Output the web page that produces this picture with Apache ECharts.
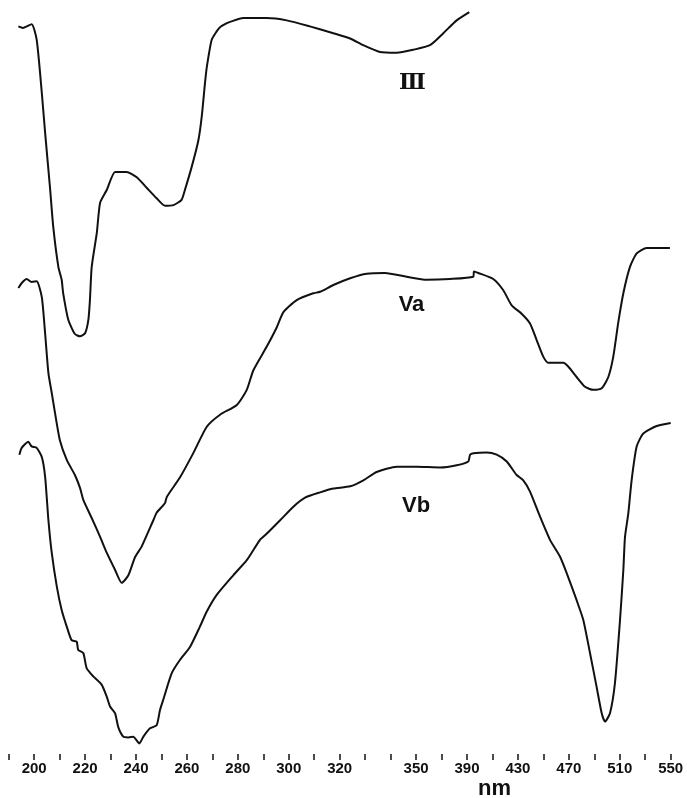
<!DOCTYPE html>
<html>
<head>
<meta charset="utf-8">
<script src="https://cdn.jsdelivr.net/npm/echarts@6/dist/echarts.min.js"></script>
<style>
  html, body { margin: 0; padding: 0; background: #fff; }
  #chart { width: 687px; height: 798px; }
</style>
</head>
<body>
<div id="chart"></div>
<script>
// Tick labels along the wavelength axis (one entry per tick)
const tickLabels = ['', '200', '', '220', '', '240', '', '260', '', '280', '', '300', '', '320', '', '', '350', '', '390', '', '430', '', '470', '', '510', '', '550'];

// Curve III (wavelength in nm, signal in arbitrary units)
const iiiNm  = [193.8, 195.6, 199.0, 201.0, 203.0, 204.3, 206.2, 207.5, 209.5, 210.8, 211.4, 213.4, 216.0, 218.0, 220.0, 221.3, 221.9, 222.6, 224.6, 225.9, 228.5, 231.8, 236.3, 240.3, 244.2, 248.1, 251.4, 254.7, 257.9, 259.2, 261.9, 264.5, 265.8, 267.1, 267.8, 269.7, 271.6, 273.0, 275.5, 276.9, 282.1, 291.3, 299.2, 308.3, 317.5, 324.1, 329.3, 335.8, 342.4, 348.9, 360.9, 371.4, 381.9, 391.8];
const iiiVal = [96.5, 96.3, 96.8, 94.7, 87.7, 82.4, 75.2, 69.9, 64.6, 62.9, 61.1, 57.6, 55.7, 55.4, 55.8, 57.6, 60.2, 64.6, 69.1, 73.1, 74.8, 77.2, 77.2, 76.5, 75.1, 73.7, 72.7, 72.8, 73.5, 74.8, 77.9, 81.4, 84.5, 89.0, 91.1, 94.7, 95.8, 96.4, 96.9, 97.1, 97.6, 97.6, 97.3, 96.5, 95.6, 94.9, 94.0, 93.1, 93.0, 93.4, 94.0, 95.6, 97.3, 98.4];

// Curve Va
const vaNm  = [193.8, 195.2, 197.1, 199.0, 201.0, 203.0, 204.3, 205.6, 206.9, 208.2, 210.1, 212.8, 216.0, 218.0, 219.3, 222.6, 225.9, 228.5, 231.8, 234.4, 237.0, 239.6, 242.2, 246.8, 248.1, 251.4, 252.1, 257.3, 262.5, 267.8, 273.0, 279.6, 283.5, 286.1, 291.3, 295.3, 297.9, 303.1, 309.6, 312.3, 317.5, 324.1, 330.6, 337.8, 346.3, 358.3, 376.6, 394.9, 395.5, 398.9, 410.6, 418.5, 425.1, 432.9, 439.5, 444.7, 449.9, 453.8, 465.6, 469.5, 476.1, 482.7, 489.2, 495.8, 501.0, 504.9, 508.8, 512.8, 518.0, 523.3, 531.1, 549.4];
const vaVal = [61.8, 62.5, 63.0, 62.6, 62.7, 60.6, 55.8, 50.5, 47.9, 45.2, 41.6, 39.0, 37.0, 35.3, 33.7, 31.3, 28.8, 26.7, 24.4, 22.7, 23.7, 26.1, 27.5, 31.0, 32.0, 33.3, 34.1, 36.7, 39.9, 43.4, 45.0, 46.3, 48.3, 50.9, 54.0, 56.6, 58.6, 60.2, 61.1, 61.3, 62.2, 63.1, 63.7, 63.8, 63.3, 62.9, 63.0, 63.3, 64.0, 63.8, 63.0, 61.5, 59.5, 58.4, 57.1, 54.9, 52.7, 51.9, 51.9, 51.4, 50.0, 48.7, 48.3, 48.5, 50.0, 52.7, 57.2, 61.1, 64.6, 66.4, 67.1, 67.1];

// Curve Vb
const vbNm  = [194.2, 195.1, 197.7, 199.0, 201.0, 203.0, 204.3, 205.6, 206.9, 208.9, 210.8, 212.8, 214.7, 216.7, 217.3, 219.3, 220.6, 223.2, 226.5, 228.5, 229.8, 231.8, 233.0, 235.0, 237.0, 238.9, 241.3, 242.9, 245.5, 248.1, 249.4, 250.7, 254.0, 257.3, 261.2, 265.1, 267.8, 271.7, 278.2, 283.5, 288.7, 291.3, 296.6, 301.8, 306.4, 312.3, 317.5, 324.1, 329.3, 334.5, 342.4, 350.5, 368.8, 381.9, 391.0, 392.4, 395.0, 405.5, 413.3, 421.2, 429.0, 434.2, 439.5, 447.3, 455.2, 463.0, 468.3, 476.1, 481.3, 486.6, 491.8, 495.8, 498.4, 502.3, 506.2, 510.2, 512.8, 514.1, 516.7, 519.3, 523.3, 528.5, 539.0, 550.0];
const vbVal = [39.7, 40.6, 41.4, 40.8, 40.6, 39.4, 36.8, 31.0, 26.7, 22.2, 19.1, 16.9, 15.1, 14.9, 13.8, 13.4, 11.4, 10.3, 9.2, 7.6, 6.3, 5.4, 3.6, 2.3, 2.2, 2.3, 1.4, 2.3, 3.4, 3.8, 5.8, 7.2, 10.7, 12.5, 14.2, 16.9, 18.9, 21.1, 23.7, 25.7, 28.4, 29.2, 31.0, 32.8, 34.0, 34.7, 35.2, 35.5, 36.3, 37.4, 38.1, 38.1, 38.0, 38.3, 38.8, 39.7, 39.9, 40.0, 39.7, 38.8, 37.0, 36.3, 34.8, 31.5, 28.4, 26.2, 24.0, 20.4, 17.8, 13.4, 8.9, 5.4, 4.3, 5.4, 9.4, 17.8, 24.4, 28.8, 31.9, 36.3, 40.8, 42.5, 43.5, 43.9];

// Curve name labels: [name, nm, value]
const curveNames = ['III', 'Va', 'Vb'];
const nameNm  = [348.6, 348.2, 350.0];
const nameVal = [89.0, 59.5, 32.9];

// Chart-recorder scale: 10 nm per tick up to 350 nm, 20 nm per tick above
function nmToPos(nm) {
  return nm <= 350 ? (nm - 190) / 10 : 16 + (nm - 350) / 20;
}
function build(nmArr, valArr) {
  return nmArr.map((n, i) => [nmToPos(n), valArr[i]]);
}

const chart = echarts.init(document.getElementById('chart'), null, { renderer: 'canvas' });

const lineStyle = { color: '#111', width: 2 };
const nameStyle = { fontFamily: 'Liberation Sans', fontWeight: 'bold', fontSize: 22, color: '#111' };

function mkSeries(nmArr, valArr, idx) {
  return {
    type: 'line',
    data: build(nmArr, valArr),
    showSymbol: false,
    smooth: 0.2,
    lineStyle: lineStyle,
    silent: true,
    markPoint: {
      symbol: 'circle',
      symbolSize: 0,
      silent: true,
      label: idx === 0 ? {
        show: true, formatter: '\u2162', position: 'inside',
        fontFamily: 'DejaVu Serif', fontWeight: 'bold', fontSize: 22, color: '#111'
      } : Object.assign({ show: true, formatter: curveNames[idx], position: 'inside' }, nameStyle),
      data: [{ coord: [nmToPos(nameNm[idx]), nameVal[idx]] }]
    }
  };
}

chart.setOption({
  animation: false,
  backgroundColor: '#fff',
  grid: { left: 8.7, right: 16.3, top: 0, bottom: 44, containLabel: false },
  xAxis: {
    type: 'value',
    min: 0, max: 26, interval: 1,
    axisLine: { show: false },
    axisTick: { show: true, length: 6, lineStyle: { color: '#111', width: 1.5 } },
    splitLine: { show: false },
    axisLabel: {
      margin: 7,
      fontFamily: 'Liberation Sans', fontWeight: 'bold', fontSize: 15, color: '#111',
      formatter: v => tickLabels[Math.round(v)] || ''
    }
  },
  yAxis: {
    type: 'value', min: 0, max: 100, show: false, splitLine: { show: false }
  },
  series: [
    mkSeries(iiiNm, iiiVal, 0),
    mkSeries(vaNm, vaVal, 1),
    mkSeries(vbNm, vbVal, 2)
  ],
  graphic: [{
    type: 'text',
    left: 478, top: 778,
    style: { text: 'nm', fontFamily: 'Liberation Sans', fontWeight: 'bold', fontSize: 22, fill: '#111' }
  }]
});
</script>
</body>
</html>
